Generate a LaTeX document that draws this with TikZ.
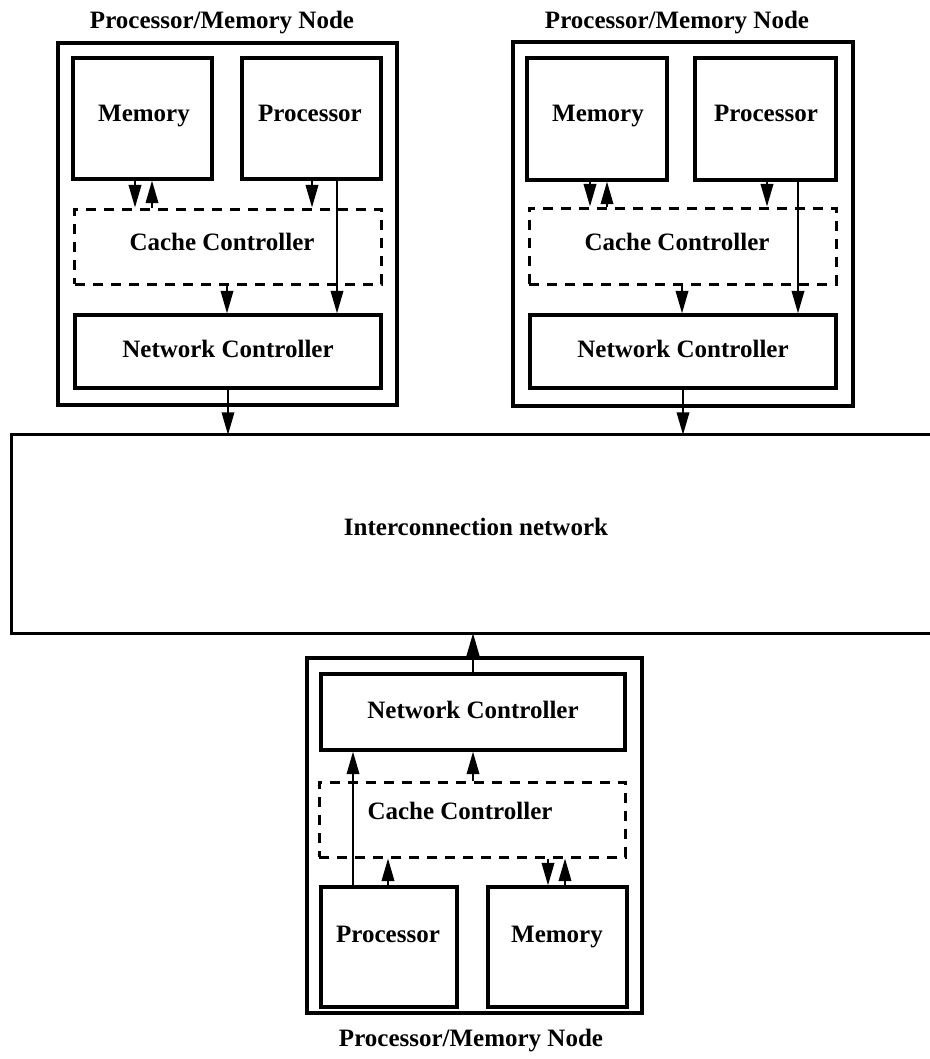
\documentclass[tikz,border=0pt]{standalone}
\usepackage{fontspec}
\setmainfont{Liberation Serif}
\usetikzlibrary{arrows.meta}
\tikzset{
every picture/.style={
line width=1pt
}}

\begin{document}
\begin{tikzpicture}[x=0.4pt, y=-0.4pt,
block/.style = {rectangle, draw=black, line width=1.3pt, inner sep=0pt, text height=7pt, text depth=2pt, font=\bfseries\fontsize{10}{12}\selectfont},
cbox/.style = {block, line width=1.2pt, dash pattern=on 4pt off 3.2pt},
lbl/.style = {inner sep=0pt, text height=7pt, text depth=2pt, font=\bfseries\fontsize{10}{12}\selectfont},
arr/.style = {line width=0.8pt, -{Triangle[length=9pt, width=5pt]}}]

\useasboundingbox (0,0) rectangle (929,1059);

% upper left node
\node[lbl] (ttlA) at (222,22) {Processor/Memory Node};
\node[block, minimum width=135.6pt, minimum height=144.8pt] (pmA) at (227.5,224) {};
\node[block, minimum width=55.6pt, minimum height=48.4pt] (memA) at (142.5,118.5) {};
\node[block, minimum width=55.6pt, minimum height=48.4pt] (procA) at (311.5,118.5) {};
\node[lbl] (tmemA) at (144,115) {Memory};
\node[lbl] (tprocA) at (310,115) {Processor};
\node[cbox, minimum width=122.4pt, minimum height=30pt] (ccA) at (228,246.5) {};
\node[lbl] (tccA) at (222,244) {Cache Controller};
\node[block, minimum width=122.4pt, minimum height=29.2pt] (ncA) at (228,351.5) {Network Controller};

\draw[arr] (135,0 |- memA.south) -- (135,0 |- ccA.north);
\draw[arr] (152,0 |- ccA.north) -- (152,0 |- memA.south);
\draw[arr] (312,0 |- procA.south) -- (312,0 |- ccA.north);
\draw[arr] (337,0 |- procA.south) -- (337,0 |- ncA.north);
\draw[arr] (227,0 |- ccA.south) -- (227,0 |- ncA.north);

% upper right node
\node[lbl] (ttlB) at (677,22) {Processor/Memory Node};
\node[block, minimum width=136pt, minimum height=145.6pt] (pmB) at (683,224) {};
\node[block, minimum width=56pt, minimum height=48.8pt] (memB) at (597,119) {};
\node[block, minimum width=56.4pt, minimum height=48.8pt] (procB) at (765.5,119) {};
\node[lbl] (tmemB) at (598,115) {Memory};
\node[lbl] (tprocB) at (766,115) {Processor};
\node[cbox, minimum width=122.8pt, minimum height=30.4pt] (ccB) at (682.5,246) {};
\node[lbl] (tccB) at (677,244) {Cache Controller};
\node[block, minimum width=122.4pt, minimum height=29.2pt] (ncB) at (683,351.5) {Network Controller};

\draw[arr] (590,0 |- memB.south) -- (590,0 |- ccB.north);
\draw[arr] (607,0 |- ccB.north) -- (607,0 |- memB.south);
\draw[arr] (767,0 |- procB.south) -- (767,0 |- ccB.north);
\draw[arr] (798,0 |- procB.south) -- (798,0 |- ncB.north);
\draw[arr] (682,0 |- ccB.south) -- (682,0 |- ncB.north);

% network
\node[minimum width=366.4pt, minimum height=78.4pt, inner sep=0pt] (icn) at (471,534) {};
\node[lbl] (ticn) at (476,529) {Interconnection network};
\draw[line width=1.3pt] (icn.north east) -- (icn.north west) -- (icn.south west) -- (icn.south east);

\draw[arr] (ncA.south) -- (ncA.south |- icn.north);
\draw[arr] (ncB.south) -- (ncB.south |- icn.north);

% lower node
\node[block, minimum width=134pt, minimum height=142pt] (pmC) at (474.5,835.5) {};
\node[block, minimum width=121.6pt, minimum height=30.4pt] (ncC) at (473,712) {Network Controller};
\node[cbox, minimum width=122.4pt, minimum height=30pt] (ccC) at (472,819.5) {};
\node[lbl] (tccC) at (460,813) {Cache Controller};
\node[block, minimum width=54.4pt, minimum height=48pt] (procC) at (389,947) {};
\node[block, minimum width=55.6pt, minimum height=48pt] (memC) at (557.5,947) {};
\node[lbl] (tprocC) at (388,936) {Processor};
\node[lbl] (tmemC) at (557,936) {Memory};
\node[lbl] (ttlC) at (471,1040) {Processor/Memory Node};

\draw[arr] (353,0 |- procC.north) -- (353,0 |- ncC.south);
\draw[arr] (388,0 |- procC.north) -- (388,0 |- ccC.south);
\draw[arr] (548,0 |- ccC.south) -- (548,0 |- memC.north);
\draw[arr] (565,0 |- memC.north) -- (565,0 |- ccC.south);
\draw[arr] (473,0 |- ccC.north) -- (473,0 |- ncC.south);
\draw[arr] (ncC.north) -- (ncC.north |- icn.south);
\end{tikzpicture}
\end{document}
